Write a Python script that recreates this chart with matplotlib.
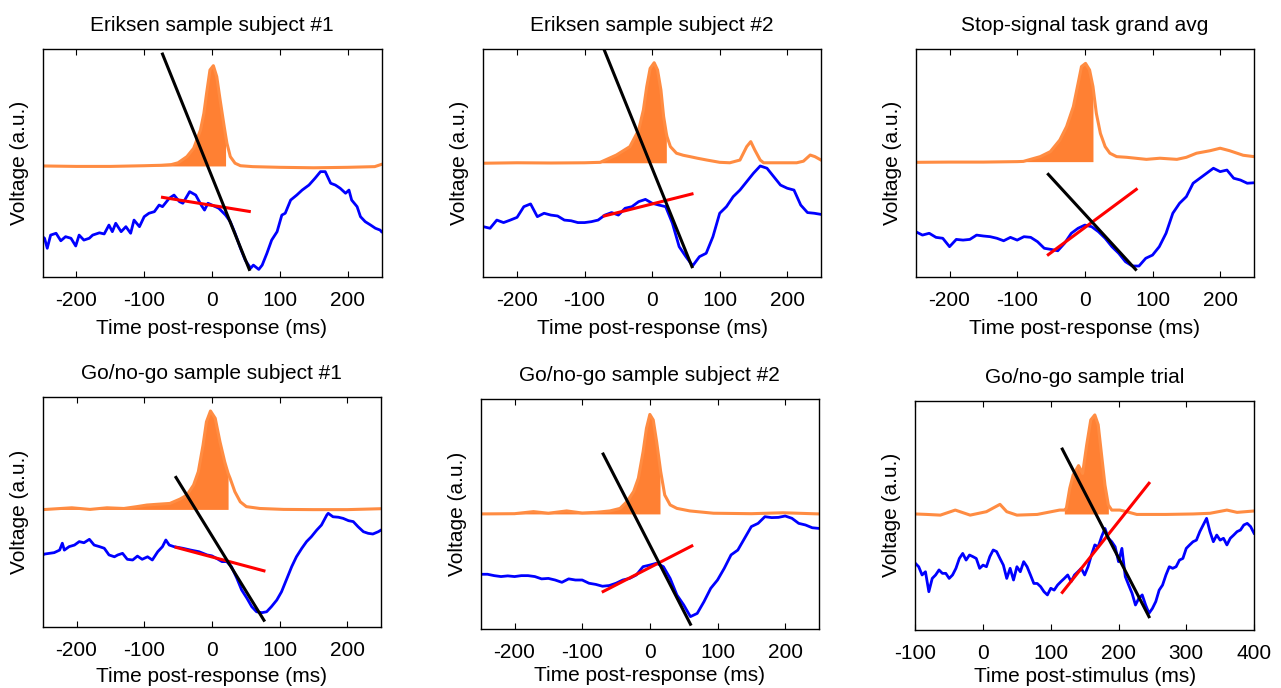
import numpy as np
import matplotlib.pyplot as plt

plt.rcParams['font.family'] = ['Liberation Sans', 'DejaVu Sans']
plt.rcParams['axes.unicode_minus'] = False

# ---- panel titles / labels ----
titles = ['Eriksen sample subject #1', 'Eriksen sample subject #2', 'Stop-signal task grand avg',
          'Go/no-go sample subject #1', 'Go/no-go sample subject #2', 'Go/no-go sample trial']
xlabels = ['Time post-response (ms)'] * 5 + ['Time post-stimulus (ms)']
xlims = [(-250, 250)] * 5 + [(-100, 400)]
xticks = [[-200, -100, 0, 100, 200]] * 5 + [[-100, 0, 100, 200, 300, 400]]

# ---- EMG (orange) traces, y in arbitrary units (0-100) ----
emg1_t = [-250, -200, -150, -100, -75, -60, -50, -37, -27, -17, -12, -8, -3, 2, 7, 12, 18, 20, 22, 27, 34, 42, 60, 100, 150, 200, 240, 250]
emg1_v = [48.7, 48.5, 48.5, 48.8, 49.0, 49.3, 50.1, 52.8, 56.5, 64.5, 71.8, 80.6, 90.9, 92.8, 88.0, 77.7, 66.0, 62.3, 58.7, 52.8, 49.9, 48.8, 48.4, 48.1, 47.9, 48.1, 48.4, 49.4]
emg2_t = [-250, -200, -150, -100, -77, -53, -33, -20, -13, -8, -3, 3, 8, 13, 17, 21, 22, 27, 36, 46, 56, 67, 81, 100, 115, 130, 140, 146, 152, 160, 165, 200, 214, 224, 234, 241, 250]
emg2_v = [49.9, 50.1, 50.0, 50.1, 50.3, 53.5, 57.2, 64.5, 73.3, 83.6, 91.6, 94.1, 90.9, 82.1, 70.4, 63.0, 61.6, 57.2, 54.3, 53.4, 52.8, 52.1, 51.3, 50.3, 50.1, 51.3, 57.2, 59.4, 55.7, 51.3, 50.1, 50.1, 50.1, 50.8, 53.5, 52.8, 51.3]
emg3_t = [-250, -200, -150, -100, -91, -66, -51, -37, -27, -17, -10, -5, 1, 7, 12, 17, 23, 30, 37, 47, 62, 91, 111, 136, 150, 165, 185, 200, 214, 234, 250]
emg3_v = [50.3, 50.4, 50.4, 50.6, 50.7, 52.8, 55.0, 60.1, 66.0, 74.8, 85.0, 92.4, 93.8, 90.9, 83.6, 71.8, 63.0, 57.2, 54.3, 52.8, 52.5, 51.6, 52.1, 51.6, 52.5, 54.3, 55.4, 56.5, 55.4, 53.4, 52.8]
emg4_t = [-250, -207, -180, -155, -130, -111, -96, -82, -62, -47, -37, -27, -20, -13, -8, -2, 5, 12, 19, 24, 27, 34, 42, 51, 71, 106, 150, 200, 250]
emg4_v = [50.9, 51.7, 51.0, 51.7, 51.4, 52.2, 52.9, 53.2, 53.6, 55.5, 57.2, 61.6, 67.4, 79.0, 89.1, 93.8, 90.6, 80.4, 71.7, 66.7, 64.5, 58.7, 54.3, 52.2, 51.4, 51.0, 50.9, 50.9, 51.3]
emg5_t = [-250, -200, -172, -150, -123, -100, -79, -59, -44, -34, -24, -17, -10, -5, 0, 5, 10, 15, 16, 22, 30, 40, 59, 94, 150, 197, 250]
emg5_v = [50.1, 50.2, 51.1, 50.4, 51.4, 50.5, 50.8, 51.4, 52.5, 55.4, 59.8, 65.6, 77.1, 87.3, 93.3, 90.9, 81.5, 70.7, 68.5, 58.3, 54.0, 52.5, 51.4, 50.4, 50.2, 50.6, 50.1]
emg6_t = [-100, -83, -63, -41, -19, 5, 25, 35, 50, 80, 113, 120, 123, 128, 133, 141, 147, 153, 159, 165, 170, 175, 180, 185, 190, 202, 212, 227, 270, 310, 335, 360, 375, 400]
emg6_v = [50.6, 50.4, 50.1, 52.3, 50.1, 51.6, 54.8, 51.6, 50.1, 50.4, 52.3, 52.3, 53.1, 61.8, 67.6, 71.7, 68.3, 80.7, 91.6, 93.8, 89.5, 76.3, 63.2, 54.5, 52.3, 52.3, 51.6, 50.4, 50.4, 50.6, 50.9, 52.3, 51.3, 51.9]

emg_base = [48.7, 50.1, 50.6, 51.0, 50.1, 50.6]
fill_from = [-250, -250, -250, -250, -250, 120]
fill_to = [20, 21, 12, 24, 15, 185]

# ---- EEG (blue) traces ----
eeg1_t = [-250, -247, -243, -238, -230, -223, -216, -208, -201, -196, -189, -181, -176, -166, -159, -152, -147, -142, -134, -127,
          -120, -115, -107, -100, -93, -85, -78, -73, -63, -56, -48, -43, -33, -24, -16, -11, -6, 0, 10, 20,
          27, 34, 42, 49, 57, 61, 69, 74, 81, 88, 96, 103, 108, 116, 125, 133, 143, 152, 160, 167,
          175, 182, 189, 197, 202, 206, 214, 219, 226, 234, 241, 248, 250]
eeg1 = [17.6, 16.9, 12.5, 18.3, 19.1, 15.8, 17.6, 16.9, 13.5, 18.3, 16.1, 16.9, 18.3, 19.3, 18.8, 22.7, 19.8, 23.5, 19.8, 22.0,
        19.1, 24.9, 22.0, 26.4, 27.9, 28.6, 31.5, 30.8, 34.5, 35.9, 33.0, 32.3, 37.4, 35.9, 31.5, 29.3, 32.3, 31.5, 30.1, 27.1,
        24.2, 19.1, 12.5, 7.3, 3.7, 5.1, 3.2, 5.1, 10.3, 16.1, 19.8, 27.1, 27.9, 33.7, 35.9, 38.1, 40.3, 43.3, 46.2, 46.2,
        41.1, 40.3, 38.9, 36.7, 38.1, 33.7, 30.8, 26.4, 24.2, 22.7, 21.3, 20.5, 19.8]
eeg2 = [22.0, 21.3, 24.9, 23.8, 24.9, 26.1, 30.8, 32.0, 26.4, 27.9, 27.1, 26.7, 24.9, 24.6, 23.8, 23.8, 24.2, 24.9, 27.1, 28.2,
        27.1, 30.1, 30.8, 33.0, 34.0, 32.3, 31.5, 30.8, 23.5, 13.2, 8.8, 4.8, 8.8, 10.3, 17.6, 27.9, 30.8, 35.2, 38.1, 41.8,
        45.5, 48.7, 47.7, 44.0, 40.3, 38.9, 38.1, 31.5, 28.2, 27.9, 27.4]
eeg3 = [19.8, 18.3, 19.1, 17.3, 16.9, 13.2, 16.4, 16.1, 16.4, 18.3, 17.9, 17.6, 16.9, 15.8, 17.3, 16.1, 17.6, 17.3, 15.4, 12.5,
        12.0, 11.4, 14.7, 19.1, 21.3, 22.7, 22.0, 19.8, 16.9, 13.2, 10.3, 6.6, 4.7, 4.7, 8.1, 9.5, 13.2, 19.1, 27.9, 32.3,
        35.2, 41.1, 43.3, 45.5, 47.7, 46.2, 46.9, 43.3, 42.5, 41.1, 41.3]
eeg4_t = [-250, -247, -240, -233, -225, -221, -218, -211, -203, -196, -189, -181, -174, -166, -159, -152, -144, -139, -132, -125,
          -117, -110, -103, -95, -88, -80, -73, -68, -63, -56, -43, -31, -19, -7, 0, 7, 15, 22, 29, 37,
          44, 52, 59, 66, 74, 81, 88, 96, 103, 111, 118, 125, 133, 140, 147, 155, 162, 170, 172, 179,
          187, 194, 202, 209, 216, 224, 231, 238, 246, 250]
eeg4 = [31.2, 31.6, 31.9, 32.2, 33.3, 36.3, 33.3, 34.8, 35.5, 37.0, 36.5, 38.0, 35.5, 34.8, 34.1, 31.2, 30.4, 31.2, 31.9, 29.3,
        29.0, 30.7, 29.3, 30.4, 29.0, 32.6, 34.8, 37.7, 35.5, 34.8, 34.1, 33.3, 32.6, 31.2, 30.8, 29.7, 28.3, 28.3, 26.1, 21.0,
        16.0, 12.3, 8.7, 6.5, 6.1, 6.5, 8.7, 11.6, 15.2, 21.0, 26.1, 30.4, 34.1, 37.0, 39.1, 42.0, 44.2, 48.6, 49.3, 47.8,
        47.6, 47.1, 46.1, 45.7, 43.5, 41.3, 40.6, 40.3, 41.3, 42.0]
eeg5 = [23.9, 23.9, 23.3, 22.9, 23.2, 22.9, 23.3, 23.3, 22.9, 21.9, 22.1, 21.4, 20.4, 21.9, 21.4, 21.4, 20.0, 19.5, 18.7, 19.0,
        20.0, 21.4, 22.1, 23.6, 27.2, 27.9, 28.7, 27.2, 22.1, 14.9, 10.6, 5.5, 6.9, 12.0, 17.8, 21.4, 26.5, 32.3, 34.4, 39.5,
        44.6, 46.0, 48.9, 48.5, 48.6, 49.2, 48.2, 46.0, 45.3, 44.1, 43.8]
eeg6 = [29.1, 27.6, 24.0, 25.4, 16.7, 22.5, 24.0, 26.2, 24.7, 24.7, 22.5, 24.0, 26.9, 31.2, 33.4, 30.5, 32.7, 32.0, 31.2, 26.9,
        28.3, 27.6, 32.0, 34.9, 34.2, 31.2, 28.3, 22.5, 26.9, 21.8, 27.6, 25.4, 29.8, 27.6, 24.0, 20.3, 20.3, 18.9, 16.7, 15.3,
        18.2, 17.4, 19.6, 21.1, 22.5, 24.0, 21.1, 24.0, 25.4, 26.9, 24.0, 27.6, 32.7, 37.1, 36.3, 40.7, 44.3, 40.0, 38.5, 36.3,
        29.8, 35.6, 23.3, 19.6, 16.0, 10.9, 13.8, 15.3, 10.9, 7.3, 9.4, 12.4, 17.4, 19.6, 24.0, 27.6, 26.9, 27.6, 30.5, 31.2,
        35.6, 37.1, 38.5, 39.2, 42.9, 45.8, 48.7, 42.9, 38.5, 41.4, 39.2, 40.0, 37.1, 40.0, 41.4, 42.9, 43.6, 45.8, 46.5, 45.1,
        42.2]
step10 = list(range(-250, 251, 10))
eeg_t = [eeg1_t, step10, step10, eeg4_t, step10, list(range(-100, 401, 5))]

# ---- fitted lines (black = steep slope, red = pre-response slope) ----
black_t = [(-73, 55), (-72, 59), (-54, 75), (-53, 77), (-69, 60), (117, 245)]
black_v = [(97.9, 3.2), (100.5, 4.4), (45.0, 3.2), (64.9, 2.8), (76.1, 2.2), (78.9, 5.8)]
red_t = [(-73, 55), (-71, 59), (-54, 76), (-53, 77), (-69, 62), (117, 245)]
red_v = [(34.9, 28.7), (26.7, 36.4), (9.7, 38.4), (34.5, 24.3), (16.4, 36.2), (16.4, 64.0)]

emg_t = [emg1_t, emg2_t, emg3_t, emg4_t, emg5_t, emg6_t]
emg_v = [emg1_v, emg2_v, emg3_v, emg4_v, emg5_v, emg6_v]
eeg_v = [eeg1, eeg2, eeg3, eeg4, eeg5, eeg6]

# axes boxes in pixels (left, top, right, bottom)
W, H = 1281, 688
boxes = [(42.5, 49.3, 381.5, 276.7), (483.3, 49.3, 821, 276.7), (915.7, 49.3, 1254, 276.7),
         (42.7, 396.7, 381, 626.7), (480.7, 399, 819, 629.3), (915.3, 400.7, 1254, 630)]
xlabel_pad = [7, 7, 7, 5, 3, 3]

fig = plt.figure(figsize=(W / 100, H / 100), dpi=100)

for i in range(6):
    l, t, r, b = boxes[i]
    ax = fig.add_axes([l / W, 1 - b / H, (r - l) / W, (b - t) / H])

    et = np.array(emg_t[i])
    ev = np.array(emg_v[i])
    mask = (et >= fill_from[i]) & (et <= fill_to[i])
    ax.fill_between(et, emg_base[i], ev, where=mask, color='#FF8033', lw=0)
    ax.plot(et, ev, color='#FF8C42', lw=2.2)

    ax.plot(eeg_t[i], eeg_v[i], color='#0000FF', lw=2.0)
    ax.plot(red_t[i], red_v[i], color='#FF0000', lw=2.2)
    ax.plot(black_t[i], black_v[i], color='black', lw=2.2)

    ax.set_xlim(xlims[i])
    ax.set_ylim(0, 100)
    ax.set_xticks(xticks[i])
    ax.set_yticks([])
    ax.tick_params(axis='x', direction='in', top=True, length=4, labelsize=15, pad=10)
    ax.set_title(titles[i], fontsize=15, pad=13)
    ax.set_xlabel(xlabels[i], fontsize=15, labelpad=xlabel_pad[i])
    ax.set_ylabel('Voltage (a.u.)', fontsize=15, labelpad=10)
    for s in ax.spines.values():
        s.set_linewidth(1)

fig.savefig('out.png', dpi=100)
